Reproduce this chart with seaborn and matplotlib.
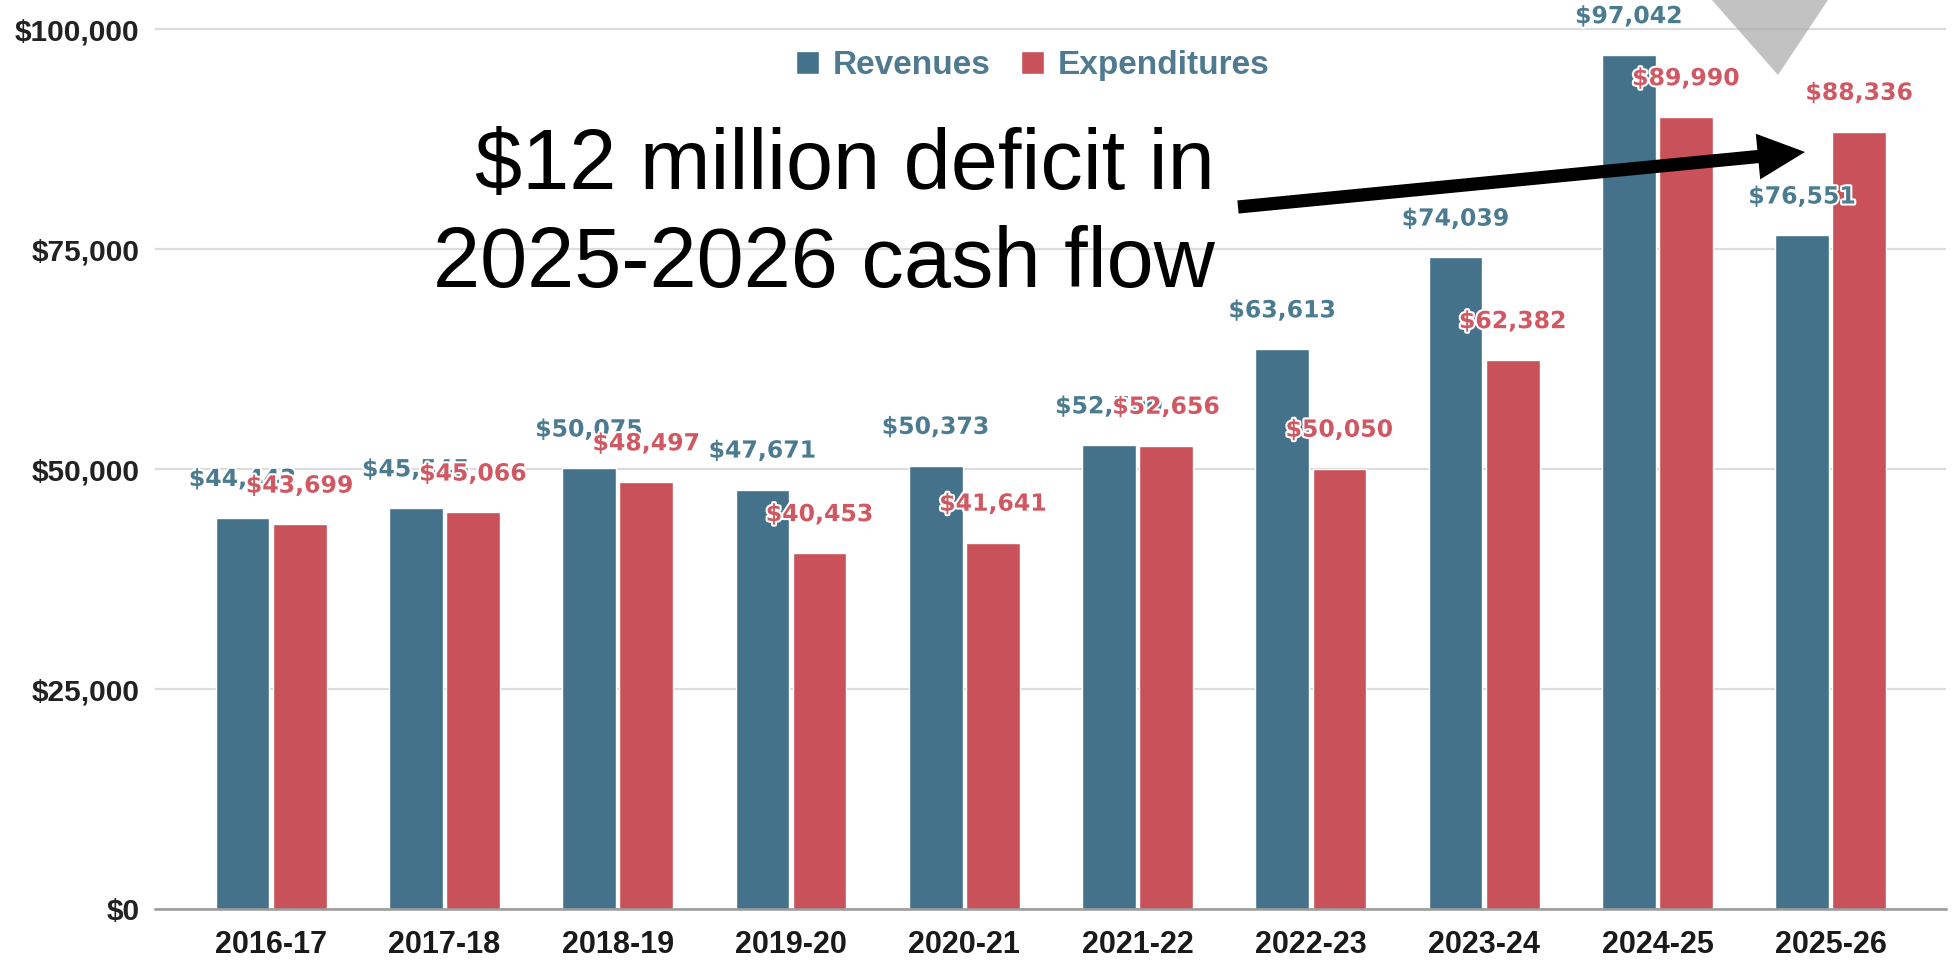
import pandas as pd
import matplotlib.pyplot as plt
import matplotlib.patheffects as pe
from matplotlib.patches import Polygon
from matplotlib.ticker import FuncFormatter
import seaborn as sns

# ------------------------------
# Data (thousands of dollars)
# ------------------------------
years = ["2016-17", "2017-18", "2018-19", "2019-20", "2020-21",
         "2021-22", "2022-23", "2023-24", "2024-25", "2025-26"]
revenues = [44443, 45545, 50075, 47671, 50373, 52700, 63613, 74039, 97042, 76551]
expenditures = [43699, 45066, 48497, 40453, 41641, 52656, 50050, 62382, 89990, 88336]
series_names = ["Revenues", "Expenditures"]
y_ticks = [0, 25000, 50000, 75000, 100000]
note = "$12 million deficit in\n2025-2026 cash flow"

blue = "#44728b"
red = "#c9525a"
blue_txt = "#4b7b91"
red_txt = "#d05862"

df = pd.DataFrame({
    "year": years * 2,
    "amount": revenues + expenditures,
    "series": [series_names[0]] * len(years) + [series_names[1]] * len(years),
})

sns.set_theme(style="white")
plt.rcParams["font.family"] = ["Liberation Sans", "DejaVu Sans"]

fig = plt.figure(figsize=(19.6, 9.66), dpi=100)
ax = fig.add_axes([155 / 1960, 57 / 966, 1791 / 1960, 909 / 966])

sns.barplot(data=df, x="year", y="amount", hue="series", palette=[blue, red],
            width=0.66, gap=0.06, saturation=1, ax=ax)

ax.set_xlim(-0.67, 9.665)
ax.set_ylim(0, 103300)
ax.set_yticks(y_ticks)
ax.yaxis.set_major_formatter(FuncFormatter(lambda v, p: f"${v:,.0f}"))
ax.set_xlabel("")
ax.set_ylabel("")
ax.grid(axis="y", color="#dcdcdc", lw=1.6)
ax.set_axisbelow(True)
for side in ["left", "right", "top"]:
    ax.spines[side].set_visible(False)
ax.spines["bottom"].set_color("#9a9a9a")
ax.spines["bottom"].set_linewidth(1.8)
ax.tick_params(axis="y", length=0, pad=11, labelsize=21.5, labelcolor="#222222")
ax.tick_params(axis="x", length=0, pad=15, labelsize=22, labelcolor="#1a1a1a")
for t in ax.get_xticklabels() + ax.get_yticklabels():
    t.set_fontweight("bold")

# value labels above the bars
halo = [pe.withStroke(linewidth=3, foreground="white")]
for cont, col in zip(ax.containers, [blue_txt, red_txt]):
    for bar in cont:
        h = bar.get_height()
        ax.annotate(f"${h:,.0f}", (bar.get_x() + bar.get_width() / 2, h),
                    xytext=(0, 28), textcoords="offset points",
                    ha="center", va="center", fontsize=17, fontweight="bold",
                    family="DejaVu Sans", color=col, path_effects=halo)

# legend
handles, labels = ax.get_legend_handles_labels()
if ax.legend_ is not None:
    ax.legend_.remove()
leg = ax.legend(handles, labels, loc="center", bbox_to_anchor=(0.49, 0.928),
                ncol=2, frameon=False, fontsize=24, handlelength=0.7,
                handleheight=0.7, handletextpad=0.4, columnspacing=0.9)
for t in leg.get_texts():
    t.set_color("#4f7a90")
    t.set_fontweight("bold")

# annotation text and arrow
fig.text(1215 / 1960, 1 - 216 / 966, note, ha="right", va="center",
         multialignment="right", fontsize=61, color="black", linespacing=1.3)
ax.annotate("", xy=(1805, 966 - 152), xycoords="figure pixels",
            xytext=(1238, 966 - 207), textcoords="figure pixels",
            arrowprops=dict(arrowstyle="simple,head_length=3.4,head_width=3.3,tail_width=0.95",
                            mutation_scale=10, color="black", lw=0,
                            shrinkA=0, shrinkB=0))

# grey overlay triangle at the top
fig.patches.append(Polygon([(1712 / 1960, 1.0), (1828 / 1960, 1.0), (1778 / 1960, 1 - 75 / 966)],
                           closed=True, transform=fig.transFigure,
                           facecolor="#a8a8a8", alpha=0.7, lw=0))

fig.savefig("out.png", dpi=100)
